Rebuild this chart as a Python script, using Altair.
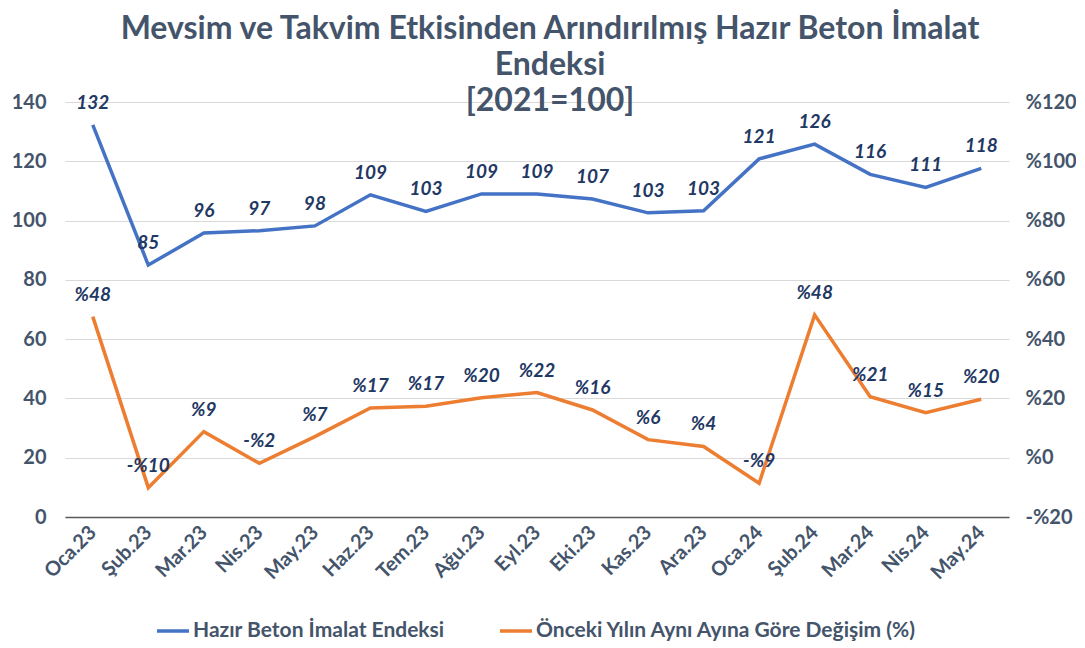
import altair as alt
import pandas as pd

months = ["Oca.23", "Şub.23", "Mar.23", "Nis.23", "May.23", "Haz.23", "Tem.23", "Ağu.23",
          "Eyl.23", "Eki.23", "Kas.23", "Ara.23", "Oca.24", "Şub.24", "Mar.24", "Nis.24", "May.24"]
index_vals = [132.3, 85.0, 95.8, 96.6, 98.2, 108.7, 103.1, 109.0, 109.0, 107.3, 102.6, 103.3,
              120.8, 125.8, 115.6, 111.2, 117.6]
change_vals = [47.6, -10.1, 8.8, -1.9, 7.1, 16.8, 17.4, 20.2, 22.0, 16.1, 6.1, 3.8,
               -8.6, 48.2, 20.6, 15.2, 19.7]
series_names = ["Hazır Beton İmalat Endeksi", "Önceki Yılın Aynı Ayına Göre Değişim (%)"]
series_colors = ["#4472C4", "#ED7D31"]
left_ticks = [0, 20, 40, 60, 80, 100, 120, 140]
right_ticks = [-20, 0, 20, 40, 60, 80, 100, 120]
title_lines = ["Mevsim ve Takvim Etkisinden Arındırılmış Hazır Beton İmalat", "Endeksi", "[2021=100]"]


def pct_label(v):
    r = int(round(v))
    return ("-%" if r < 0 else "%") + str(abs(r))


df_a = pd.DataFrame({"month": months, "value": index_vals, "series": series_names[0]})
df_a["label"] = [str(int(round(v))) for v in index_vals]
df_b = pd.DataFrame({"month": months, "value": change_vals, "series": series_names[1]})
df_b["label"] = [pct_label(v) for v in change_vals]

FONT = "Lato"
AXIS_COLOR = "#44546A"
LABEL_COLOR = "#1F3864"

x_enc = alt.X(
    "month:N", sort=months, title=None,
    axis=alt.Axis(labelAngle=-45, labelAlign="right", labelBaseline="middle",
                  labelFont=FONT, labelFontSize=20, labelColor=AXIS_COLOR,
                  labelFontWeight="bold", labelPadding=12,
                  ticks=False, domainColor="#595959", domainWidth=1.5, grid=False),
)

color_enc = alt.Color(
    "series:N", title=None,
    scale=alt.Scale(domain=series_names, range=series_colors),
    legend=alt.Legend(orient="none", legendX=90, legendY=511, direction="horizontal",
                      symbolType="stroke", symbolStrokeWidth=3.5, symbolSize=1024,
                      labelFont=FONT, labelFontSize=21, labelFontWeight="bold",
                      labelColor=AXIS_COLOR, columnPadding=48, labelOffset=2, labelLimit=700),
)

y_left = alt.Y(
    "value:Q", title=None,
    scale=alt.Scale(domain=[0, 140], nice=False, zero=False),
    axis=alt.Axis(values=left_ticks, orient="left", labelFont=FONT, labelFontSize=20,
                  labelFontWeight="bold", labelColor=AXIS_COLOR, labelPadding=19,
                  ticks=False, domain=False, grid=True, gridColor="#D9D9D9", gridWidth=1),
)
y_right = alt.Y(
    "value:Q", title=None,
    scale=alt.Scale(domain=[-20, 120], nice=False, zero=False),
    axis=alt.Axis(values=right_ticks, orient="right", labelFont=FONT, labelFontSize=20,
                  labelFontWeight="bold", labelColor=AXIS_COLOR, labelPadding=16,
                  labelExpr="(datum.value < 0 ? '-%' : '%') + abs(datum.value)",
                  ticks=False, domain=False, grid=False),
)

line_a = alt.Chart(df_a).mark_line(strokeWidth=3.5).encode(x=x_enc, y=y_left, color=color_enc)
text_a = alt.Chart(df_a).mark_text(
    dy=-22, font=FONT, fontSize=19, fontWeight="bold", fontStyle="italic", color=LABEL_COLOR
).encode(x=x_enc, y=y_left, text="label:N")

line_b = alt.Chart(df_b).mark_line(strokeWidth=3.5).encode(x=x_enc, y=y_right, color=color_enc)
text_b = alt.Chart(df_b).mark_text(
    dy=-22, font=FONT, fontSize=19, fontWeight="bold", fontStyle="italic", color=LABEL_COLOR
).encode(x=x_enc, y=y_right, text="label:N")

left = alt.layer(line_a, text_a)
right = alt.layer(line_b, text_b)

chart = alt.layer(left, right).resolve_scale(y="independent").properties(
    width=944, height=415,
    title=alt.TitleParams(text=title_lines, font=FONT, fontSize=32, fontWeight="bold",
                          color=AXIS_COLOR, anchor="middle", lineHeight=36, offset=-26, dx=13),
    autosize=alt.AutoSizeParams(type="none"),
    padding={"left": 57, "top": 94, "right": 67, "bottom": 128},
    background="white",
).configure_view(stroke=None)

chart.save("out.html", embed_options={"renderer": "svg", "actions": False})
